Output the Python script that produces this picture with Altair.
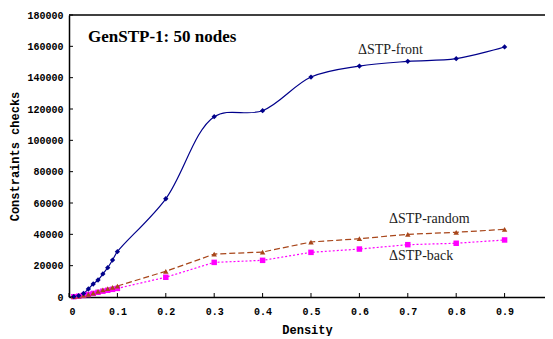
import altair as alt
import pandas as pd

density = [0.01, 0.02, 0.03, 0.04, 0.05, 0.06, 0.07, 0.08, 0.09, 0.1,
           0.2, 0.3, 0.4, 0.5, 0.6, 0.7, 0.8, 0.9]
front = [300, 830, 2300, 5100, 8300, 10850, 14700, 18700, 23600, 28900,
         62700, 115100, 118900, 140400, 147400, 150400, 152100, 159600]
random_ = [200, 600, 1100, 1700, 2500, 3600, 4500, 5300, 6200, 7000,
           16400, 27400, 28700, 35100, 37200, 40000, 41300, 43200]
back = [200, 500, 1000, 1600, 2300, 3000, 3700, 4300, 4900, 5500,
        12600, 22100, 23400, 28500, 30600, 33400, 34300, 36400]

x_ticks = [0, 0.1, 0.2, 0.3, 0.4, 0.5, 0.6, 0.7, 0.8, 0.9]
y_ticks = [0, 20000, 40000, 60000, 80000, 100000, 120000, 140000, 160000, 180000]

title_text = "GenSTP-1: 50 nodes"
label_front = "ΔSTP-front"
label_random = "ΔSTP-random"
label_back = "ΔSTP-back"

df_front = pd.DataFrame({"d": density, "v": front})
df_random = pd.DataFrame({"d": density, "v": random_})
df_back = pd.DataFrame({"d": density, "v": back})

W, H = 476, 282
xs = alt.Scale(domain=[0, 0.9835], nice=False)
ys = alt.Scale(domain=[0, 180000], nice=False)

X = alt.X("d:Q", scale=xs, title="Density",
          axis=alt.Axis(values=x_ticks, tickCount=20, format=".1~f", ticks=False, grid=False,
                        labelOverlap=False,
                        labelFont="Liberation Mono", labelFontWeight="bold", labelFontSize=10,
                        labelPadding=9, labelColor="black",
                        titleFont="Liberation Mono", titleFontWeight="bold", titleFontSize=12,
                        titlePadding=8, titleColor="black",
                        domainColor="black", domainWidth=1.5))
Y = alt.Y("v:Q", scale=ys, title="Constraints checks",
          axis=alt.Axis(values=y_ticks, tickCount=20, format="d", ticks=False, grid=False,
                        labelOverlap=False,
                        labelFont="Liberation Mono", labelFontWeight="bold", labelFontSize=10,
                        labelPadding=6, labelColor="black",
                        titleFont="Liberation Mono", titleFontWeight="bold", titleFontSize=12,
                        titlePadding=5, titleColor="black",
                        domainColor="black", domainWidth=1.5))

c_front = "#00008B"
c_random = "#A8461A"
c_back = "#FF00FF"

front_line = alt.Chart(df_front).mark_line(color=c_front, strokeWidth=1.2,
                                           interpolate="catmull-rom").encode(x=X, y=Y)
front_pts = alt.Chart(df_front).mark_point(shape="diamond", filled=True, size=28,
                                           color=c_front, opacity=1).encode(x="d:Q", y="v:Q")
random_line = alt.Chart(df_random).mark_line(color=c_random, strokeWidth=1.2,
                                             strokeDash=[6, 3]).encode(x="d:Q", y="v:Q")
random_pts = alt.Chart(df_random).mark_point(shape="triangle-up", filled=True, size=30,
                                             color=c_random, opacity=1).encode(x="d:Q", y="v:Q")
back_line = alt.Chart(df_back).mark_line(color=c_back, strokeWidth=1.2,
                                         strokeDash=[2, 2]).encode(x="d:Q", y="v:Q")
back_pts = alt.Chart(df_back).mark_square(size=30, color=c_back,
                                          opacity=1).encode(x="d:Q", y="v:Q")

xt = alt.Chart(pd.DataFrame({"d": x_ticks})).mark_rule(color="black", strokeWidth=1).encode(
    x="d:Q", y=alt.value(H), y2=alt.value(H - 4))
yt = alt.Chart(pd.DataFrame({"v": y_ticks})).mark_rule(color="black", strokeWidth=1).encode(
    y="v:Q", x=alt.value(0), x2=alt.value(4))
top_line = alt.Chart(pd.DataFrame({"t": [0]})).mark_rule(color="black", strokeWidth=1.5).encode(
    y=alt.value(0), x=alt.value(0), x2=alt.value(W))


def label(text, px, py, size, weight="normal", color="#222222"):
    return alt.Chart(pd.DataFrame({"t": [text]})).mark_text(
        font="Liberation Serif", fontSize=size, fontWeight=weight, color=color,
        align="left", baseline="alphabetic").encode(
        text="t:N", x=alt.value(px), y=alt.value(py))


t_title = label(title_text, 19, 27, 17, "bold", "black")
t_front = label(label_front, 289, 39, 14)
t_random = label(label_random, 320, 208, 14)
t_back = label(label_back, 320, 245, 14)

chart = alt.layer(
    front_line, random_line, back_line, back_pts, random_pts, front_pts,
    xt, yt, top_line, t_title, t_front, t_random, t_back
).properties(
    width=W, height=H,
    autosize=alt.AutoSizeParams(type="none"),
    padding={"left": 61, "top": 7, "right": 0, "bottom": 39},
    background="white",
).configure_view(strokeWidth=0).configure_axis(labelOverlap=False)

chart.save("out.html", embed_options={"renderer": "svg", "actions": False})
